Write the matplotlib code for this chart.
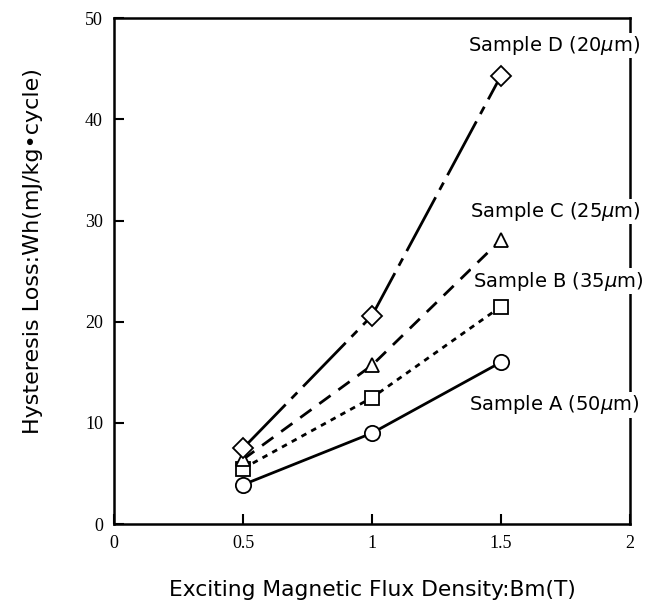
import matplotlib.pyplot as plt

# Данные
bm = [0.5, 1.0, 1.5]
loss_a = [3.9, 9.0, 16.0]
loss_b = [5.5, 12.5, 21.5]
loss_c = [6.4, 15.7, 28.1]
loss_d = [7.5, 20.6, 44.3]

labels = ["Sample A (50$\\mu$m)", "Sample B (35$\\mu$m)",
          "Sample C (25$\\mu$m)", "Sample D (20$\\mu$m)"]
label_pos = [(1.376, 11.8), (1.391, 24.0), (1.380, 30.9), (1.372, 47.3)]

fig = plt.figure(figsize=(6.52, 6.06), dpi=100)
ax = fig.add_axes([0.175, 0.135, 0.791, 0.835])

mk = dict(color="black", markerfacecolor="white", markeredgecolor="black",
          markeredgewidth=1.3, linewidth=2.0, clip_on=False)
ax.plot(bm, loss_a, linestyle="-", marker="o", markersize=11, **mk)
ax.plot(bm, loss_b, linestyle=(0, (2, 2)), marker="s", markersize=10, **mk)
ax.plot(bm, loss_c, linestyle=(0, (5, 3.5)), marker="^", markersize=10, **mk)
ax.plot(bm, loss_d, linestyle=(0, (22, 3, 3, 3)), marker="D", markersize=10, **mk)

# подписи серий перекрывают правую рамку (белый фон)
for text, (x, y) in zip(labels, label_pos):
    ax.text(x, y, text, fontsize=14, family="DejaVu Sans", va="center", ha="left",
            zorder=5, bbox=dict(facecolor="white", edgecolor="none", pad=1))

ax.set_xlim(0, 2)
ax.set_ylim(0, 50)
ax.set_xticks([0, 0.5, 1, 1.5, 2])
ax.set_xticklabels(["0", "0.5", "1", "1.5", "2"])
ax.set_yticks([0, 10, 20, 30, 40, 50])
ax.tick_params(direction="in", length=7, width=1.5, labelsize=13, pad=8,
               top=False, right=False)
for lab in ax.get_xticklabels() + ax.get_yticklabels():
    lab.set_family("Liberation Serif")
for sp in ax.spines.values():
    sp.set_linewidth(1.8)

ax.set_xlabel("Exciting Magnetic Flux Density:Bm(T)", fontsize=15.7, labelpad=20)
ax.set_ylabel("Hysteresis Loss:Wh(mJ/kg\u2022cycle)", fontsize=16)
ax.yaxis.set_label_coords(-0.137, 0.54)

fig.savefig("out.png", dpi=100)
